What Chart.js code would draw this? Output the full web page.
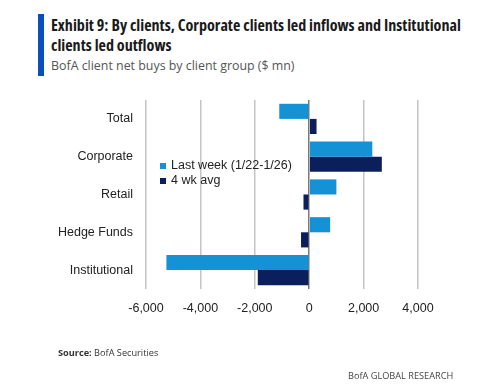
<!DOCTYPE html>
<html>
<head>
<meta charset="utf-8">
<script src="https://cdn.jsdelivr.net/npm/chart.js@4.4.1/dist/chart.umd.min.js"></script>
<style>
  html, body { margin: 0; padding: 0; background: #fff; }
  body { width: 489px; height: 389px; position: relative; overflow: hidden; font-family: "Open Sans", "Liberation Sans", sans-serif; }
  #bar { position: absolute; left: 38px; top: 14px; width: 6px; height: 62px; background: #0b4fbd; }
  #title { position: absolute; left: 51px; top: 15px; font-weight: bold; font-size: 16.1px; line-height: 20px; color: #1a1a1a; font-stretch: condensed; white-space: nowrap; }
  #subtitle { position: absolute; left: 51px; top: 56px; font-size: 12.4px; line-height: 20px; color: #555; white-space: nowrap; }
  #chartwrap { position: absolute; left: 0; top: 0; width: 489px; height: 389px; }
  #legend { position: absolute; left: 160px; top: 158px; font-family: "Liberation Sans", Arial, sans-serif; font-size: 12.5px; color: #222; line-height: 15px; }
  #legend .item { display: flex; align-items: center; height: 15px; white-space: nowrap; }
  #legend .sw { width: 6px; height: 6px; margin-right: 5px; display: inline-block; }
  #source { position: absolute; left: 58px; top: 346px; font-size: 9.2px; color: #333; white-space: nowrap; }
  #brand { position: absolute; left: 348px; top: 369px; font-size: 9.2px; color: #444; white-space: nowrap; }
</style>
</head>
<body>
<div id="bar"></div>
<div id="title">Exhibit 9: By clients, Corporate clients led inflows and Institutional<br>clients led outflows</div>
<div id="subtitle">BofA client net buys by client group ($ mn)</div>
<div id="chartwrap"><canvas id="c" width="489" height="389"></canvas></div>
<div id="legend"></div>
<div id="source"><b>Source:</b> BofA Securities</div>
<div id="brand">BofA GLOBAL RESEARCH</div>
<script>
const categories = ["Total", "Corporate", "Retail", "Hedge Funds", "Institutional"];
const seriesNames = ["Last week (1/22-1/26)", "4 wk avg"];
const lastWeek = [-1100, 2320, 1000, 770, -5250];
const fourWkAvg = [270, 2670, -210, -300, -1890];
const xTicks = [-6000, -4000, -2000, 0, 2000, 4000];
const colors = ["#1591d6", "#0b1f5c"];

const axisFont = { family: '"Liberation Sans", Arial, sans-serif', size: 12.5 };

const chart = new Chart(document.getElementById('c'), {
  type: 'bar',
  data: {
    labels: categories,
    datasets: [
      { label: seriesNames[0], data: lastWeek, backgroundColor: colors[0], categoryPercentage: 0.8, barPercentage: 1.0 },
      { label: seriesNames[1], data: fourWkAvg, backgroundColor: colors[1], categoryPercentage: 0.8, barPercentage: 1.0 }
    ]
  },
  options: {
    indexAxis: 'y',
    responsive: false,
    animation: false,
    devicePixelRatio: 1,
    layout: { padding: { top: 100, bottom: 73, left: 0, right: 71 } },
    plugins: { legend: { display: false }, tooltip: { enabled: false } },
    scales: {
      x: {
        min: -6000, max: 4000,
        afterBuildTicks: (s) => { s.ticks = xTicks.map(v => ({ value: v })); },
        afterFit: (s) => { s.height = 27; },
        border: { display: false },
        grid: {
          drawTicks: false,
          color: (ctx) => ctx.tick && ctx.tick.value === 0 ? '#7a7a7a' : '#c4c4c4',
          lineWidth: 1.5
        },
        ticks: {
          padding: 12,
          color: '#222',
          font: axisFont,
          callback: (v) => Number(v).toLocaleString('en-US')
        }
      },
      y: {
        afterFit: (s) => { s.width = 146; },
        border: { display: false },
        grid: { display: false, drawTicks: false },
        ticks: { padding: 13, color: '#222', font: axisFont }
      }
    }
  }
});

const lg = document.getElementById('legend');
chart.data.datasets.forEach(ds => {
  const it = document.createElement('div');
  it.className = 'item';
  const sw = document.createElement('span');
  sw.className = 'sw';
  sw.style.background = ds.backgroundColor;
  it.appendChild(sw);
  it.appendChild(document.createTextNode(ds.label));
  lg.appendChild(it);
});
</script>
</body>
</html>
